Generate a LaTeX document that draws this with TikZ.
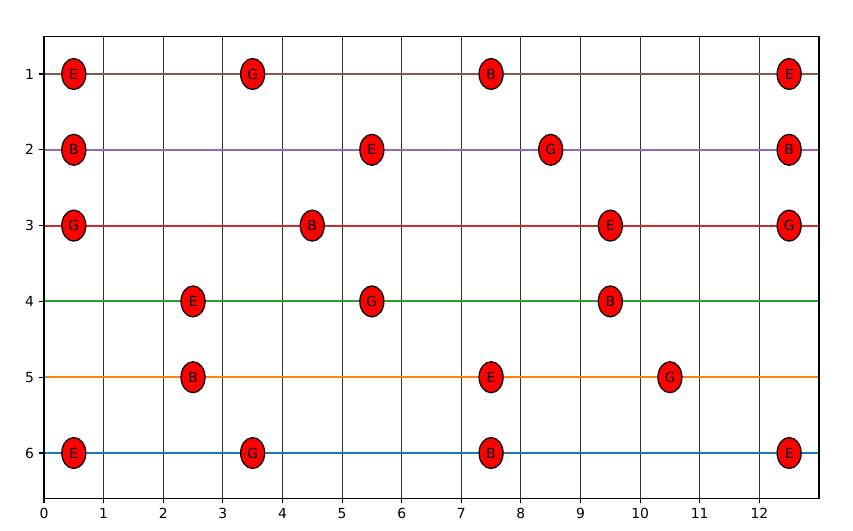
\documentclass[tikz,border=0pt]{standalone}
\usepackage{fontspec}
\setmainfont{DejaVu Sans}
\usepackage{xcolor}
\usetikzlibrary{shapes.geometric}
\definecolor{tabblue}{HTML}{1F77B4}
\definecolor{taborange}{HTML}{FF7F0E}
\definecolor{tabgreen}{HTML}{2CA02C}
\definecolor{tabred}{HTML}{D62728}
\definecolor{tabpurple}{HTML}{9467BD}
\definecolor{tabbrown}{HTML}{8C564B}
\tikzset{
  note/.style={ellipse, draw=black, fill=red, line width=0.9pt, minimum width=17.3pt, minimum height=22.3pt, inner sep=0pt, font=\fontsize{10}{12}\selectfont},
  fret/.style={draw=black!80, line width=0.6pt},
  strline/.style={line width=1.5pt},
  axisline/.style={line width=0.8pt},
  ticklab/.style={font=\fontsize{10}{12}\selectfont, inner sep=0pt},
}

\begin{document}
\begin{tikzpicture}[x=42.92pt, y=-54.58pt]
  \useasboundingbox (-0.738,0.024) rectangle (13.571,7.016);
  % frets
  \foreach \f in {1,...,12}
    \draw[fret] (\f,0.5) -- (\f,6.6);
  % strings
  \draw[strline, tabblue] (0,6) -- (13,6);
  \draw[strline, taborange] (0,5) -- (13,5);
  \draw[strline, tabgreen] (0,4) -- (13,4);
  \draw[strline, tabred] (0,3) -- (13,3);
  \draw[strline, tabpurple] (0,2) -- (13,2);
  \draw[strline, tabbrown] (0,1) -- (13,1);
  % axes frame and ticks
  \draw[axisline] (0,0.5) rectangle (13,6.6);
  \foreach \t in {0,...,12} {
    \draw[axisline] (\t,6.6) -- ++(0pt,-3.5pt);
    \node[ticklab, anchor=north] (xtick\t) at ([yshift=-7pt]\t,6.6) {\t};
  }
  \foreach \s in {1,...,6} {
    \draw[axisline] (0,\s) -- ++(-3.5pt,0pt);
    \node[ticklab, anchor=east] (ytick\s) at ([xshift=-7pt]0,\s) {\s};
  }
  % string 1
  \node[note] (s1a) at (0.5,1) {E};
  \node[note] (s1b) at (3.5,1) {G};
  \node[note] (s1c) at (7.5,1) {B};
  \node[note] (s1d) at (12.5,1) {E};
  % string 2
  \node[note] (s2a) at (0.5,2) {B};
  \node[note] (s2b) at (5.5,2) {E};
  \node[note] (s2c) at (8.5,2) {G};
  \node[note] (s2d) at (12.5,2) {B};
  % string 3
  \node[note] (s3a) at (0.5,3) {G};
  \node[note] (s3b) at (4.5,3) {B};
  \node[note] (s3c) at (9.5,3) {E};
  \node[note] (s3d) at (12.5,3) {G};
  % string 4
  \node[note] (s4a) at (2.5,4) {E};
  \node[note] (s4b) at (5.5,4) {G};
  \node[note] (s4c) at (9.5,4) {B};
  % string 5
  \node[note] (s5a) at (2.5,5) {B};
  \node[note] (s5b) at (7.5,5) {E};
  \node[note] (s5c) at (10.5,5) {G};
  % string 6
  \node[note] (s6a) at (0.5,6) {E};
  \node[note] (s6b) at (3.5,6) {G};
  \node[note] (s6c) at (7.5,6) {B};
  \node[note] (s6d) at (12.5,6) {E};
\end{tikzpicture}
\end{document}
